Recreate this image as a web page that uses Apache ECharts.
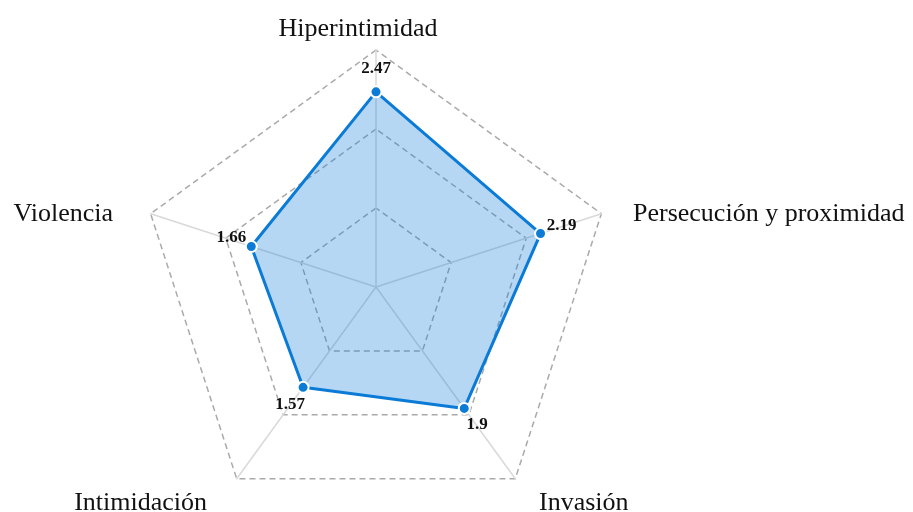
<!DOCTYPE html>
<html>
<head>
<meta charset="utf-8">
<script src="https://cdn.jsdelivr.net/npm/echarts@6/dist/echarts.min.js"></script>
<style>
  html, body { margin: 0; padding: 0; background: #fff; }
  #chart { width: 913px; height: 512px; }
</style>
</head>
<body>
<div id="chart"></div>
<script>
// radar runs counter-clockwise, so axes are listed that way
var indicators = ['Hiperintimidad', 'Violencia', 'Intimidación', 'Invasión', 'Persecución y proximidad']
var values = [2.47, 1.66, 1.57, 1.9, 2.19]
var maxValue = 3

// per-axis nudges for names and value labels (padding trick)
var namePads = {
  n0: [0, 36, 0, 0],
  n1: [5, 30, 0, 0],
  n2: [35, 25, 0, 0],
  n3: [35, 0, 0, 19],
  n4: [5, 0, 0, 24]
}
var labelPads = {
  v0: [0, 0, 46, 0],
  v1: [0, 40, 18, 0],
  v2: [34, 26, 0, 0],
  v3: [32, 0, 0, 26],
  v4: [0, 0, 16, 42]
}

var nameRich = {}
Object.keys(namePads).forEach(function (k) {
  nameRich[k] = { padding: namePads[k], fontFamily: 'Liberation Serif', fontSize: 26, color: '#111' }
})
var labelRich = {}
Object.keys(labelPads).forEach(function (k) {
  labelRich[k] = { padding: labelPads[k], fontFamily: 'Liberation Serif', fontSize: 17, fontWeight: 'bold', color: '#111' }
})

var chart = echarts.init(document.getElementById('chart'))
chart.setOption({
  animation: false,
  radar: {
    center: [376, 287],
    radius: 237,
    startAngle: 90,
    splitNumber: 3,
    shape: 'polygon',
    nameGap: 8,
    indicator: indicators.map(function (n) { return { name: n, max: maxValue, min: 0 } }),
    axisName: {
      formatter: function (name) {
        return '{n' + indicators.indexOf(name) + '|' + name + '}'
      },
      rich: nameRich
    },
    axisLine: { lineStyle: { color: '#d9d9d9', width: 1.5 } },
    splitLine: { lineStyle: { color: '#aaaaaa', width: 1.5, type: [6, 4] } },
    splitArea: { show: false }
  },
  series: [{
    type: 'radar',
    symbol: 'circle',
    symbolSize: 11,
    lineStyle: { color: '#0b7bd6', width: 3 },
    itemStyle: { color: '#0b7bd6', borderColor: '#fff', borderWidth: 2 },
    areaStyle: { color: '#0b7bd6', opacity: 0.3 },
    label: {
      show: true,
      position: 'inside',
      formatter: function (p) {
        var i = values.indexOf(p.value)
        return '{v' + i + '|' + p.value + '}'
      },
      rich: labelRich
    },
    data: [{ value: values }]
  }]
})
</script>
</body>
</html>
